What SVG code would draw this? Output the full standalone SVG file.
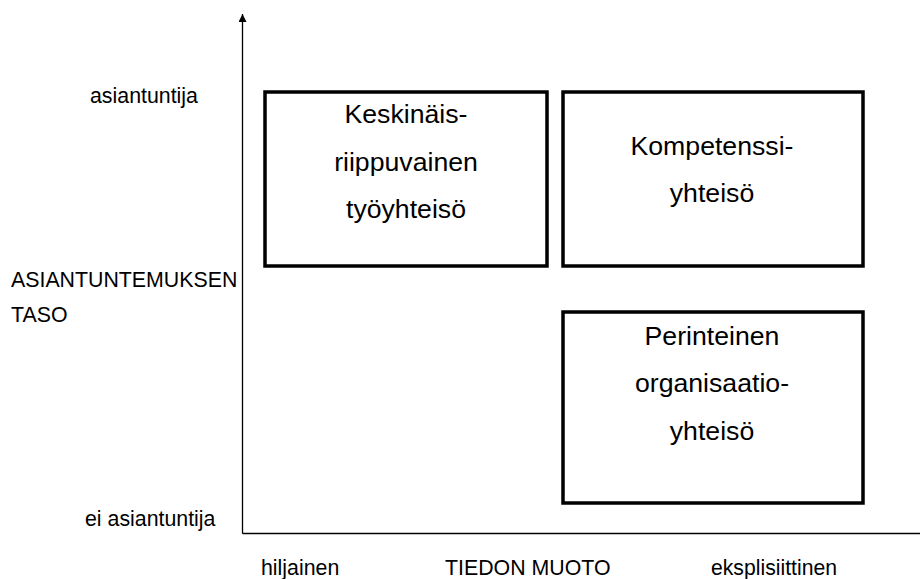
<svg xmlns="http://www.w3.org/2000/svg" width="920" height="579" viewBox="0 0 920 579">
<style>
.box{fill:#fff;stroke:#000;stroke-width:3.5}
.bt{font-family:"Liberation Sans",Arial,sans-serif;font-size:26.67px;text-anchor:middle;fill:#000}
.lb{font-family:"Liberation Sans",Arial,sans-serif;font-size:21.33px;fill:#000}
.ax{stroke:#000;stroke-width:1.3;fill:none}
</style>
<defs>
<marker id="arr" viewBox="0 0 10 10" refX="10" refY="5" markerWidth="8" markerHeight="8" orient="auto" markerUnits="userSpaceOnUse">
<path d="M0,0 L10,5 L0,10 z" fill="#000"/>
</marker>
</defs>
<g id="connectors">
<line class="ax" x1="242.5" y1="533.5" x2="242.5" y2="14" marker-end="url(#arr)"/>
<line class="ax" x1="242.5" y1="533.5" x2="920" y2="533.5"/>
</g>
<g id="labels">
<text class="lb" x="90" y="103">asiantuntija</text>
<text class="lb" x="11" y="287">ASIANTUNTEMUKSEN</text>
<text class="lb" x="11" y="322">TASO</text>
<text class="lb" x="85" y="526">ei asiantuntija</text>
<text class="lb" x="261" y="575">hiljainen</text>
<text class="lb" x="445" y="575">TIEDON MUOTO</text>
<text class="lb" x="711" y="575" textLength="126" lengthAdjust="spacingAndGlyphs">eksplisiittinen</text>
</g>
<g id="node1">
<rect class="box" x="265" y="92" width="282" height="174"/>
<text class="bt" x="406" y="123">Keskinäis-</text>
<text class="bt" x="406" y="171">riippuvainen</text>
<text class="bt" x="406" y="218">työyhteisö</text>
</g>
<g id="node2">
<rect class="box" x="563" y="92" width="300" height="174"/>
<text class="bt" x="712" y="155">Kompetenssi-</text>
<text class="bt" x="712" y="202">yhteisö</text>
</g>
<g id="node3">
<rect class="box" x="563" y="312" width="300" height="191"/>
<text class="bt" x="712" y="345">Perinteinen</text>
<text class="bt" x="712" y="392">organisaatio-</text>
<text class="bt" x="712" y="440">yhteisö</text>
</g>
</svg>
